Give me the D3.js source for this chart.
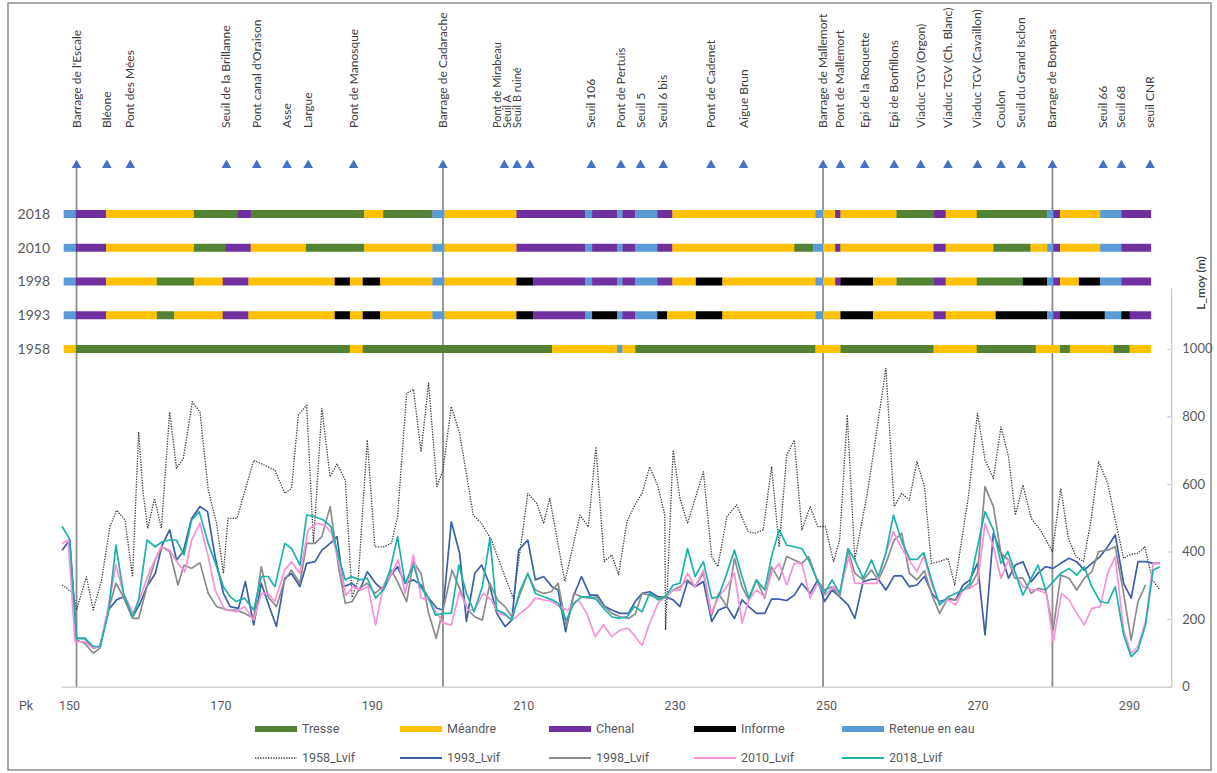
<!DOCTYPE html>
<html>
<head>
<meta charset="utf-8">
<script src="https://cdn.jsdelivr.net/npm/d3@7"></script>
<style>
  body { margin: 0; background: #fff; }
  text { font-family: Lato, "Open Sans", sans-serif; }
  .narrow { font-family: "Liberation Sans Narrow", "Roboto", sans-serif; }
</style>
</head>
<body>
<div id="chart"></div>
<script>
// ---- data ----
const years = ["2018", "2010", "1998", "1993", "1958"];
const typeCodes = ["T", "M", "C", "I", "R"];
const typeNames = ["Tresse", "Méandre", "Chenal", "Informe", "Retenue en eau"];

// [pk début, pk fin, type]
const band2018 = [[149.3,150.9,"R"],[150.9,154.9,"C"],[154.9,166.5,"M"],[166.5,172.3,"T"],[172.3,174.1,"C"],[174.1,189.0,"T"],[189.0,191.5,"M"],[191.5,198.0,"T"],[198.0,199.6,"R"],[199.6,209.1,"M"],[209.1,218.2,"C"],[218.2,219.1,"R"],[219.1,222.4,"C"],[222.4,223.1,"R"],[223.1,224.8,"C"],[224.8,227.7,"R"],[227.7,229.7,"C"],[229.7,248.6,"M"],[248.6,249.6,"R"],[249.6,251.2,"M"],[251.2,251.9,"C"],[251.9,259.3,"M"],[259.3,264.2,"T"],[264.2,265.8,"C"],[265.8,269.9,"M"],[269.9,279.2,"T"],[279.2,280.0,"R"],[280.0,280.9,"C"],[280.9,286.2,"M"],[286.2,289.0,"R"],[289.0,292.9,"C"]];
const band2010 = [[149.3,150.9,"R"],[150.9,154.9,"C"],[154.9,166.5,"M"],[166.5,170.7,"T"],[170.7,174.0,"C"],[174.0,181.3,"M"],[181.3,189.0,"T"],[189.0,198.0,"M"],[198.0,199.6,"R"],[199.6,209.1,"M"],[209.1,218.2,"C"],[218.2,219.1,"R"],[219.1,222.4,"C"],[222.4,223.1,"R"],[223.1,224.8,"C"],[224.8,227.7,"R"],[227.7,229.7,"C"],[229.7,245.8,"M"],[245.8,248.3,"T"],[248.3,249.6,"R"],[249.6,251.2,"M"],[251.2,251.9,"C"],[251.9,264.2,"M"],[264.2,265.8,"C"],[265.8,272.1,"M"],[272.1,277.0,"T"],[277.0,279.2,"M"],[279.2,280.0,"R"],[280.0,280.9,"C"],[280.9,286.2,"M"],[286.2,289.0,"R"],[289.0,292.9,"C"]];
const band1998 = [[149.3,150.9,"R"],[150.9,154.9,"C"],[154.9,161.6,"M"],[161.6,166.5,"T"],[166.5,170.3,"M"],[170.3,173.7,"C"],[173.7,185.1,"M"],[185.1,187.1,"I"],[187.1,188.8,"M"],[188.8,191.1,"I"],[191.1,198.0,"M"],[198.0,199.6,"R"],[199.6,209.1,"M"],[209.1,211.3,"I"],[211.3,218.2,"C"],[218.2,219.1,"R"],[219.1,222.4,"C"],[222.4,223.1,"R"],[223.1,224.8,"C"],[224.8,227.7,"R"],[227.7,229.7,"C"],[229.7,232.8,"M"],[232.8,236.3,"I"],[236.3,248.6,"M"],[248.6,249.6,"R"],[249.6,251.2,"M"],[251.2,251.9,"C"],[251.9,256.2,"I"],[256.2,259.3,"M"],[259.3,264.2,"T"],[264.2,265.8,"C"],[265.8,269.9,"M"],[269.9,276.0,"T"],[276.0,279.2,"I"],[279.2,280.0,"R"],[280.0,280.9,"C"],[280.9,283.4,"M"],[283.4,286.2,"I"],[286.2,289.0,"R"],[289.0,292.9,"C"]];
const band1993 = [[149.3,150.9,"R"],[150.9,154.9,"C"],[154.9,161.6,"M"],[161.6,163.9,"T"],[163.9,170.3,"M"],[170.3,173.7,"C"],[173.7,185.1,"M"],[185.1,187.1,"I"],[187.1,188.8,"M"],[188.8,191.1,"I"],[191.1,198.0,"M"],[198.0,199.6,"R"],[199.6,209.1,"M"],[209.1,211.3,"I"],[211.3,218.2,"C"],[218.2,219.1,"R"],[219.1,222.4,"I"],[222.4,223.1,"R"],[223.1,224.8,"C"],[224.8,227.7,"R"],[227.7,229.0,"I"],[229.0,232.8,"M"],[232.8,236.3,"I"],[236.3,248.6,"M"],[248.6,249.6,"R"],[249.6,251.9,"M"],[251.9,256.2,"I"],[256.2,264.2,"M"],[264.2,265.8,"C"],[265.8,272.4,"M"],[272.4,279.2,"I"],[279.2,280.0,"R"],[280.0,280.9,"C"],[280.9,286.8,"I"],[286.8,289.0,"R"],[289.0,290.1,"I"],[290.1,292.9,"C"]];
const band1958 = [[149.3,150.9,"M"],[150.9,187.1,"T"],[187.1,188.8,"M"],[188.8,213.8,"T"],[213.8,222.4,"M"],[222.4,223.1,"R"],[223.1,224.8,"M"],[224.8,248.6,"T"],[248.6,251.9,"M"],[251.9,264.2,"T"],[264.2,269.9,"M"],[269.9,277.7,"T"],[277.7,280.9,"M"],[280.9,282.2,"T"],[282.2,288.0,"M"],[288.0,290.1,"T"],[290.1,292.9,"M"]];
const bands = [band2018, band2010, band1998, band1993, band1958];

// ouvrages / points remarquables (pk)
const markerPk = [151.0,155.0,158.1,170.8,174.8,178.8,181.6,187.6,199.4,207.5,209.2,210.9,219.0,222.9,225.5,228.5,234.8,239.1,249.6,251.9,255.1,259.0,262.5,266.1,270.0,273.1,275.8,279.9,286.6,289.0,292.8];
const markerLabels = ["Barrage de l'Escale","Bléone","Pont des Mées","Seuil de la Brillanne","Pont canal d'Oraison","Asse","Largue","Pont de Manosque","Barrage de Cadarache","","Pont de Mirabeau|Seuil A|Seuil B ruiné","","Seuil 106","Pont de Pertuis","Seuil 5","Seuil 6 bis","Pont de Cadenet","Aigue Brun","Barrage de Mallemort","Pont de Mallemort","Epi de la Roquette","Epi de Bonfillons","Viaduc TGV (Orgon)","Viaduc TGV (Ch. Blanc)","Viaduc TGV (Cavaillon)","Coulon","Seuil du Grand Isclon","Barrage de Bonpas","Seuil 66","Seuil 68","seuil CNR"];
const damPk = [151.0, 199.4, 249.6, 279.9];

const xTicks = [150, 170, 190, 210, 230, 250, 270, 290];
const yTicks = [0, 200, 400, 600, 800, 1000];

const seriesNames = ["1958_Lvif", "1993_Lvif", "1998_Lvif", "2010_Lvif", "2018_Lvif"];

// [pk, Lvif (m)]
const lvif1958 = [[149.1,301],[150.6,276],[151.0,227],[152.3,325],[153.2,227],[154.3,315],[155.4,473],[156.3,522],[157.4,493],[158.4,325],[159.2,754],[159.8,572],[160.4,468],[161.3,557],[162.2,468],[163.3,813],[164.2,646],[165.1,675],[166.3,843],[167.3,813],[168.4,582],[169.5,483],[170.4,335],[171.0,498],[172.2,498],[174.4,670],[177.2,641],[178.5,572],[179.4,587],[180.3,804],[181.4,833],[182.3,424],[183.4,823],[184.5,621],[185.4,660],[186.5,611],[187.4,265],[188.2,316],[189.4,730],[190.4,414],[191.5,414],[192.6,424],[193.4,503],[194.6,868],[195.5,880],[196.5,695],[197.5,898],[198.6,592],[199.4,641],[200.5,829],[201.6,750],[203.4,508],[204.5,483],[205.8,434],[207.1,355],[208.7,261],[209.6,404],[210.6,572],[211.8,542],[212.7,483],[213.5,557],[215.5,311],[217.5,508],[218.6,473],[219.6,710],[220.7,370],[221.7,390],[222.6,331],[223.7,488],[224.8,540],[225.7,572],[226.7,651],[227.8,592],[228.7,508],[228.8,168],[229.8,700],[230.7,557],[231.7,483],[233.8,636],[234.9,385],[235.7,355],[236.9,503],[238.2,538],[239.7,459],[240.6,454],[241.7,464],[242.8,651],[243.8,414],[244.8,685],[245.8,730],[246.8,464],[247.9,533],[248.9,474],[249.9,474],[251.0,370],[251.8,434],[252.8,804],[253.8,375],[255.6,592],[256.7,759],[257.9,942],[259.0,533],[260.0,572],[261.0,552],[262.0,666],[263.0,592],[263.9,365],[265.0,370],[266.1,380],[267.0,301],[268.8,562],[270.0,809],[271.0,671],[272.1,616],[273.1,769],[274.1,681],[275.0,508],[276.0,597],[277.1,498],[278.3,464],[279.9,400],[281.0,587],[282.0,439],[283.0,385],[284.0,370],[285.0,493],[286.0,666],[287.2,602],[288.2,493],[289.3,380],[290.1,390],[291.2,395],[292.1,414],[293.1,316],[294.1,286]];
const lvif1993 = [[149.1,404],[150.1,434],[151.0,143],[152.1,143],[153.2,114],[154.1,119],[155.2,227],[156.3,257],[157.2,266],[158.4,207],[159.4,247],[160.3,296],[161.4,335],[162.3,419],[163.3,464],[164.2,375],[165.1,400],[166.2,498],[167.3,533],[168.3,518],[169.3,385],[170.4,276],[171.3,237],[172.4,232],[173.3,311],[174.4,183],[175.4,306],[176.3,247],[177.4,178],[178.5,321],[179.4,335],[180.5,296],[181.4,365],[182.5,370],[183.4,404],[184.5,424],[185.4,444],[186.3,296],[187.4,306],[188.4,286],[189.4,340],[190.5,306],[191.5,286],[192.5,330],[193.4,355],[194.4,306],[195.5,316],[196.5,301],[197.5,262],[198.6,232],[199.4,227],[200.5,488],[201.6,395],[202.5,193],[203.6,335],[204.5,360],[205.5,306],[206.5,217],[207.6,178],[208.5,197],[209.4,404],[210.6,434],[211.6,316],[212.7,326],[213.8,296],[214.6,286],[215.6,163],[216.6,266],[217.7,326],[218.8,271],[219.8,271],[220.8,237],[221.7,227],[222.8,217],[223.9,217],[224.8,252],[225.7,276],[226.7,281],[227.8,266],[228.8,266],[229.8,257],[230.7,237],[231.7,311],[232.7,296],[233.8,311],[234.9,193],[235.8,227],[236.9,237],[237.9,202],[238.9,257],[239.8,237],[240.8,217],[241.9,217],[242.8,259],[243.8,259],[244.8,255],[245.8,271],[246.8,306],[247.9,276],[248.9,316],[249.8,252],[250.8,286],[251.8,266],[252.9,242],[253.8,202],[254.9,311],[256.0,318],[256.9,318],[257.9,286],[259.0,328],[260.0,328],[261.0,296],[262.0,301],[263.0,326],[264.0,275],[265.0,252],[266.1,259],[267.1,257],[268.1,301],[269.0,316],[270.0,365],[271.0,153],[272.1,454],[273.1,395],[274.1,321],[275.0,360],[276.0,370],[277.1,311],[278.0,336],[279.0,355],[280.0,350],[281.0,365],[282.1,380],[283.1,370],[284.1,345],[285.1,365],[286.2,385],[287.2,414],[288.2,449],[289.3,306],[290.3,262],[291.2,370],[292.2,370],[293.2,365],[294.1,365]];
const lvif1998 = [[151.0,138],[152.1,128],[153.2,99],[154.1,114],[155.2,227],[156.2,306],[157.2,266],[158.4,202],[159.2,202],[160.3,296],[161.4,375],[162.2,414],[163.3,400],[164.4,301],[165.2,360],[166.2,350],[167.3,367],[168.4,276],[169.5,237],[171.0,227],[172.1,227],[173.2,217],[174.4,202],[175.4,355],[176.3,266],[177.4,237],[178.5,316],[179.4,345],[180.5,306],[181.4,424],[182.5,424],[183.4,444],[184.5,533],[185.6,355],[186.5,247],[187.4,252],[188.4,291],[189.4,306],[190.4,276],[191.5,296],[192.6,345],[193.5,306],[194.6,252],[195.5,370],[196.5,335],[197.5,217],[198.5,143],[199.4,227],[200.6,345],[201.6,291],[202.7,227],[203.6,207],[204.6,197],[205.6,306],[206.6,257],[207.6,237],[208.5,207],[209.6,276],[210.6,335],[211.6,286],[212.7,276],[213.7,281],[214.6,306],[215.7,178],[216.7,276],[217.7,266],[218.8,262],[219.7,266],[220.7,237],[221.7,217],[222.8,207],[223.9,202],[224.8,215],[225.7,276],[226.7,271],[227.8,262],[228.8,266],[229.8,286],[230.7,296],[231.7,316],[232.7,296],[233.8,336],[234.9,212],[235.8,276],[236.9,237],[237.9,380],[238.9,296],[239.8,257],[240.8,316],[241.9,262],[242.8,355],[243.8,316],[244.8,385],[245.8,375],[246.8,365],[247.7,385],[248.8,316],[249.8,286],[250.8,296],[251.8,266],[252.9,404],[253.8,336],[254.9,316],[256.0,345],[256.9,316],[257.9,365],[259.0,434],[260.0,454],[261.0,336],[262.0,316],[263.0,343],[264.0,270],[265.0,217],[266.1,262],[267.1,257],[268.1,286],[269.0,296],[270.0,336],[271.0,592],[272.1,533],[273.1,395],[274.1,375],[274.9,321],[276.0,321],[277.1,276],[278.0,291],[279.0,286],[280.0,168],[281.0,330],[282.1,321],[283.1,286],[284.1,321],[285.1,340],[286.0,400],[287.2,404],[288.2,414],[289.3,276],[290.3,138],[291.2,252],[292.2,301]];
const lvif2010 = [[149.1,424],[149.9,434],[150.8,133],[152.1,133],[153.2,114],[154.1,119],[155.2,237],[156.2,360],[157.2,276],[158.5,217],[159.6,276],[160.7,345],[162.2,414],[163.3,404],[164.4,365],[165.3,340],[166.2,434],[167.3,483],[168.4,385],[169.3,286],[170.6,227],[172.1,222],[173.2,237],[174.4,197],[175.4,276],[176.3,276],[177.2,252],[178.5,345],[179.4,370],[180.5,335],[181.6,464],[182.7,483],[183.8,478],[184.7,454],[185.8,355],[186.6,271],[187.5,296],[188.6,286],[189.5,296],[190.5,183],[191.5,296],[192.5,330],[193.5,375],[194.4,276],[195.5,390],[196.5,262],[197.5,257],[198.6,217],[199.4,188],[200.5,183],[201.6,281],[202.7,227],[203.6,227],[204.7,276],[205.8,257],[206.7,217],[207.6,212],[208.5,197],[209.6,217],[210.7,237],[211.6,262],[212.7,257],[213.8,252],[214.8,237],[215.9,227],[217.3,257],[218.4,217],[219.5,148],[220.6,183],[221.7,148],[222.8,168],[223.9,173],[224.8,148],[225.7,122],[226.7,188],[227.8,247],[228.8,266],[229.8,286],[230.7,286],[231.7,336],[232.7,296],[233.8,345],[234.8,217],[235.8,266],[236.9,296],[237.9,336],[238.9,188],[239.8,257],[240.8,286],[241.9,266],[242.8,336],[243.8,365],[244.8,301],[245.8,365],[246.8,365],[247.9,262],[248.9,306],[249.9,271],[251.0,296],[251.8,276],[253.0,385],[253.8,306],[255.1,306],[256.7,306],[257.8,390],[258.9,459],[260.0,409],[261.1,370],[262.0,340],[262.9,388],[264.0,300],[265.0,247],[266.1,257],[267.1,242],[268.1,286],[269.0,291],[270.0,306],[271.0,483],[272.1,414],[273.1,321],[274.1,375],[275.2,326],[276.0,296],[277.2,286],[278.0,286],[279.1,276],[280.0,133],[281.1,276],[282.1,257],[283.1,217],[284.1,183],[285.1,232],[286.2,237],[287.2,336],[288.2,385],[289.3,168],[290.3,99],[291.2,119],[292.2,193],[293.2,365],[294.1,365]];
const lvif2018 = [[149.1,474],[150.1,436],[151.0,143],[152.1,143],[153.2,119],[154.1,119],[155.2,217],[156.2,419],[157.2,276],[158.4,207],[159.2,257],[160.3,434],[161.4,414],[162.3,429],[163.3,434],[164.2,434],[165.2,390],[166.2,493],[167.2,518],[168.4,424],[169.5,355],[170.4,296],[171.3,266],[172.1,252],[173.2,262],[174.4,227],[175.4,326],[176.3,326],[177.2,296],[178.5,424],[179.4,409],[180.5,360],[181.4,508],[182.5,503],[183.6,493],[184.6,474],[185.6,385],[186.5,316],[187.3,326],[188.4,316],[189.4,321],[190.5,262],[191.5,286],[192.4,345],[193.4,444],[194.4,306],[195.5,360],[196.4,296],[197.5,262],[198.4,212],[199.4,217],[200.5,217],[201.5,360],[202.5,276],[203.5,222],[204.6,296],[205.6,439],[206.5,227],[207.5,217],[208.5,197],[209.6,286],[210.6,335],[211.6,276],[212.7,266],[213.8,257],[214.6,247],[215.7,197],[216.7,247],[217.7,266],[218.8,266],[219.7,257],[220.8,227],[221.7,207],[222.6,202],[223.7,207],[224.7,237],[225.7,222],[226.7,276],[227.8,257],[228.8,266],[229.8,301],[230.7,306],[231.7,409],[232.7,326],[233.8,370],[234.9,262],[235.8,266],[236.9,336],[237.9,404],[238.9,326],[239.8,262],[240.8,316],[241.9,286],[242.8,385],[243.8,464],[244.8,419],[245.8,414],[246.8,409],[247.7,375],[248.8,316],[249.8,276],[250.8,316],[251.8,276],[252.9,409],[253.8,375],[254.9,321],[256.0,375],[256.9,326],[257.9,395],[258.9,508],[260.0,429],[261.1,377],[262.0,377],[262.9,397],[264.0,310],[265.0,242],[266.1,266],[267.1,276],[268.1,286],[269.0,306],[270.0,414],[271.0,518],[272.1,464],[273.1,365],[274.0,400],[275.0,336],[276.0,271],[277.1,321],[278.0,360],[279.0,286],[280.0,311],[281.0,336],[282.1,350],[283.1,330],[284.1,355],[285.1,296],[286.2,252],[287.2,247],[288.2,296],[289.3,153],[290.3,89],[291.2,109],[292.2,183],[293.2,345],[294.1,355]];
const seriesData = [lvif1958, lvif1993, lvif1998, lvif2010, lvif2018];

// ---- drawing ----
const W = 1217, H = 773;
const svg = d3.select("#chart").append("svg")
    .attr("width", W)
    .attr("height", H);

// cadre
svg.append("rect")
    .attr("x", 8).attr("y", 3)
    .attr("width", 1203).attr("height", 767)
    .attr("fill", "none")
    .attr("stroke", "#8c8c8c")
    .attr("stroke-width", 1.5);

const x = d3.scaleLinear().domain([149, 295.6]).range([61.4, 1171.3]);
const y = d3.scaleLinear().domain([0, 1180]).range([686.7, 287.9]);
const rowY = d3.scalePoint().domain(years).range([214, 349]);

const typeColor = d3.scaleOrdinal()
    .domain(typeCodes)
    .range(["#548235", "#FFC000", "#7030A0", "#000000", "#5B9BD5"]);
const lineColor = d3.scaleOrdinal()
    .domain(seriesNames)
    .range(["#3a3a3a", "#3A5FA8", "#8C8C8C", "#F792D8", "#1DB3AC"]);

// axes
const xAxis = svg.append("g")
    .attr("transform", `translate(0,${y(0)})`)
    .call(d3.axisBottom(x).tickValues(xTicks).tickSize(0).tickPadding(14).tickSizeOuter(0));
xAxis.select(".domain").attr("stroke", "#bfbfbf");
xAxis.selectAll("text")
    .attr("class", "narrow")
    .attr("font-size", 12.5)
    .attr("fill", "#595959");

svg.append("text")
    .attr("class", "narrow")
    .attr("x", 26).attr("y", y(0) + 23)
    .attr("text-anchor", "middle")
    .attr("font-size", 12.5)
    .attr("fill", "#595959")
    .text("Pk");

const yAxis = svg.append("g")
    .attr("transform", `translate(${x.range()[1]},0)`)
    .call(d3.axisRight(y).tickValues(yTicks).tickFormat(d3.format("d"))
        .tickSizeInner(-4).tickSizeOuter(0).tickPadding(11));
yAxis.select(".domain").attr("stroke", "#bfbfbf");
yAxis.selectAll(".tick line").attr("stroke", "#bfbfbf");
yAxis.selectAll("text")
    .attr("font-size", 13)
    .attr("fill", "#595959");

svg.append("text")
    .attr("transform", `translate(1205,283) rotate(-90)`)
    .attr("text-anchor", "middle")
    .attr("font-size", 12)
    .attr("font-weight", 600)
    .attr("fill", "#404040")
    .text("L_moy (m)");

// lignes des barrages
svg.selectAll(".dam")
    .data(damPk)
    .join("line")
    .attr("class", "dam")
    .attr("x1", d => x(d)).attr("x2", d => x(d))
    .attr("y1", 166).attr("y2", y(0))
    .attr("stroke", "#8c8c8c")
    .attr("stroke-width", 1.8);

// bandes de style fluvial
years.forEach((yr, i) => {
    const g = svg.append("g");
    g.selectAll("rect")
        .data(bands[i])
        .join("rect")
        .attr("x", d => x(d[0]))
        .attr("width", d => x(d[1]) - x(d[0]) + 0.3)
        .attr("y", rowY(yr) - 4)
        .attr("height", 8)
        .attr("fill", d => typeColor(d[2]));
    svg.append("text")
        .attr("x", 50).attr("y", rowY(yr))
        .attr("dy", "0.35em")
        .attr("text-anchor", "end")
        .attr("font-size", 14)
        .attr("fill", "#595959")
        .text(yr);
});

// courbes Lvif
const line = d3.line()
    .x(d => x(d[0]))
    .y(d => y(d[1]));

seriesNames.forEach((name, i) => {
    svg.append("path")
        .datum(seriesData[i])
        .attr("fill", "none")
        .attr("stroke", lineColor(name))
        .attr("stroke-width", i === 0 ? 1.3 : 1.7)
        .attr("stroke-dasharray", i === 0 ? "1.3 1.3" : null)
        .attr("stroke-linejoin", "round")
        .attr("d", line);
});

// marqueurs
svg.selectAll(".marker")
    .data(markerPk)
    .join("path")
    .attr("class", "marker")
    .attr("transform", d => `translate(${x(d)},164)`)
    .attr("d", "M0,-4.5L4.8,4L-4.8,4Z")
    .attr("fill", "#4472C4");

// étiquettes (le groupe Mirabeau / Seuil A / Seuil B est une seule étiquette sur 3 lignes)
markerPk.forEach((pk, i) => {
    if (!markerLabels[i]) return;
    const lines = markerLabels[i].split("|");
    const t = svg.append("text")
        .attr("transform", `translate(${x(pk) - (lines.length > 1 ? 10 : 0)},128) rotate(-90)`)
        .attr("font-size", lines.length > 1 ? 11 : 12)
        .attr("fill", "#404040");
    lines.forEach((s, j) => {
        t.append("tspan")
            .attr("x", 0)
            .attr("y", 4 + (j - (lines.length - 1) / 2) * 10)
            .text(s);
    });
});

// légende
const legendX = [255, 400, 549, 694, 842];
typeNames.forEach((name, i) => {
    svg.append("rect")
        .attr("x", legendX[i]).attr("y", 726)
        .attr("width", 42).attr("height", 6)
        .attr("fill", typeColor(typeCodes[i]));
    svg.append("text")
        .attr("class", "narrow")
        .attr("x", legendX[i] + 47).attr("y", 729)
        .attr("dy", "0.35em")
        .attr("font-size", 12.5)
        .attr("fill", "#595959")
        .text(name);
});
seriesNames.forEach((name, i) => {
    svg.append("line")
        .attr("x1", legendX[i]).attr("x2", legendX[i] + 42)
        .attr("y1", 758).attr("y2", 758)
        .attr("stroke", lineColor(name))
        .attr("stroke-width", i === 0 ? 1.3 : 2)
        .attr("stroke-dasharray", i === 0 ? "1.3 1.3" : null);
    svg.append("text")
        .attr("class", "narrow")
        .attr("x", legendX[i] + 47).attr("y", 758)
        .attr("dy", "0.35em")
        .attr("font-size", 12.5)
        .attr("fill", "#595959")
        .text(name);
});
</script>
</body>
</html>
